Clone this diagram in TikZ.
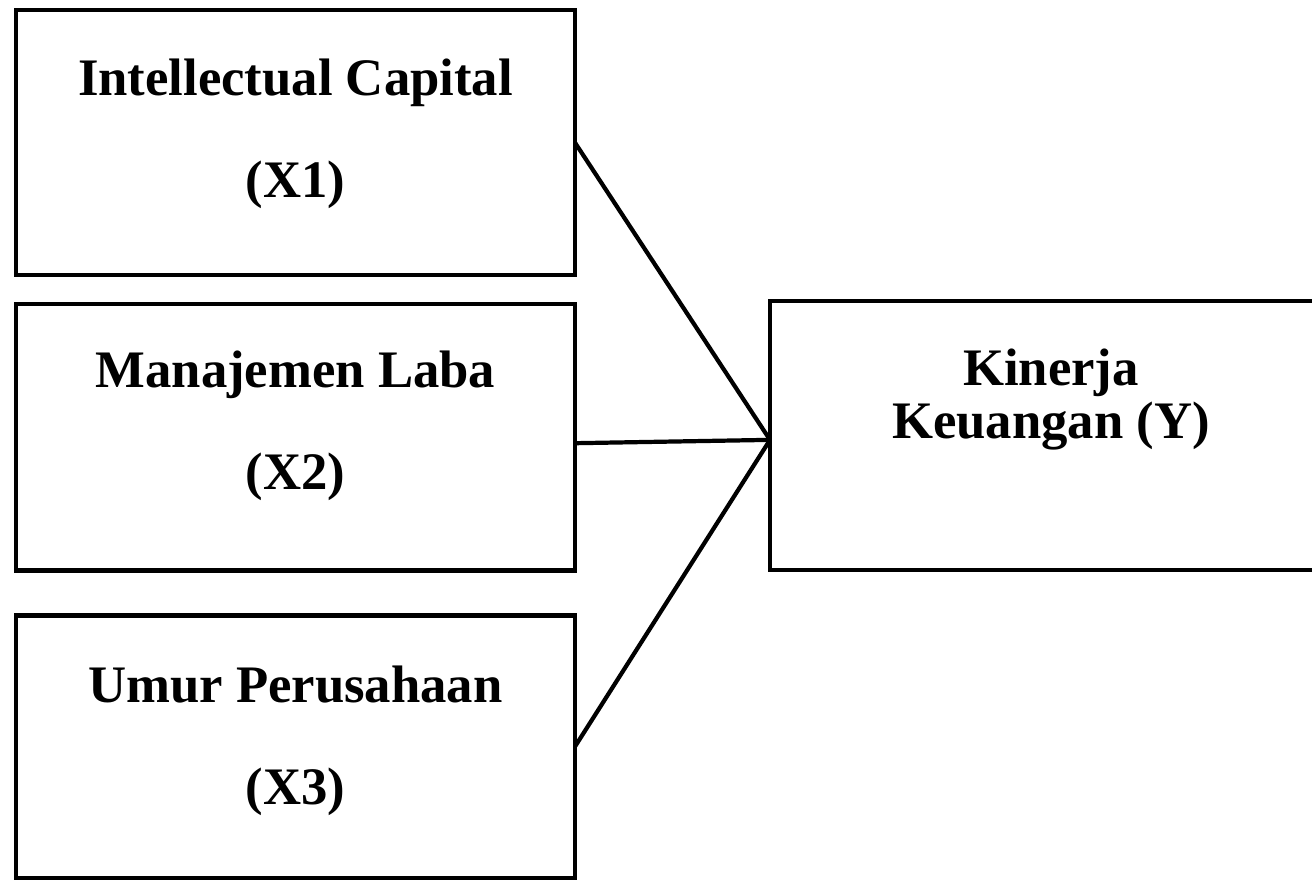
\documentclass[tikz,border=0pt]{standalone}
\usepackage{fontspec}
\setmainfont{Liberation Serif}
\usetikzlibrary{positioning}
\tikzstyle{varbox} = [rectangle, draw=black, line width=2.4pt, outer sep=0pt, minimum width=11.18cm, anchor=north west]
\tikzstyle{caption} = [align=center, inner sep=0pt, font=\fontsize{30}{58}\selectfont\bfseries]
\tikzstyle{line} = [line width=2.4pt]

\begin{document}
\begin{tikzpicture}[x=0.02cm, y=-0.02cm]
        \clip (0,0) rectangle (1312,880);
        % Nodes
        \node (x1) [varbox, minimum height=5.3cm] at (16,10) {};
        \node (x2) [varbox, minimum height=5.33cm] at (16,304) {};
        \node (x3) [varbox, minimum height=5.25cm] at (16,615.5) {};
        \node (kinerja) [varbox, minimum height=5.38cm, minimum width=11.24cm] at (770,301) {};

        % Texts
        \node (x1text) [caption, below=0.98cm of x1.north] {Intellectual Capital\\(X1)};
        \node (x2text) [caption, below=0.94cm of x2.north] {Manajemen Laba\\(X2)};
        \node (x3text) [caption, below=1.0cm of x3.north] {Umur Perusahaan\\(X3)};
        \node (kinerjatext) [caption, font=\fontsize{30}{30}\selectfont\bfseries, below=0.96cm of kinerja.north] {Kinerja\\Keuangan (Y)};

        % Lines
        \coordinate (meet) at ([yshift=-2.5pt]kinerja.west);
        \draw [line] (x1.east) -- (meet);
        \draw [line] ([yshift=-3.4pt]x2.east) -- (meet);
        \draw [line] (x3.east) -- (meet);
    \end{tikzpicture}
\end{document}
